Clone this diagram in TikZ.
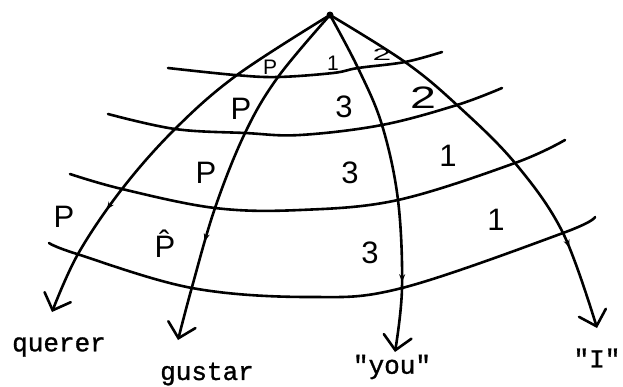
\documentclass[tikz,border=0pt]{standalone}
\usepackage{fontspec}
\setmainfont{Liberation Sans}
\newfontfamily\monofont{Liberation Mono}[Ligatures=TeXOff, FakeBold=1.2]
\usetikzlibrary{arrows.meta,decorations.markings}
\begin{document}
\begin{tikzpicture}[x=1pt,y=-1pt,
  ray/.style={line width=2.6pt, line cap=round, -{Straight Barb[length=14pt,width=28pt,line cap=round]}},
  band/.style={line width=2.6pt, line cap=round},
  cell/.style={font=\fontsize{31}{31}\selectfont, inner sep=0pt},
  smallcell/.style={font=\fontsize{21}{21}\selectfont, inner sep=0pt},
  word/.style={font=\monofont\fontsize{26}{26}\selectfont, inner sep=0pt},
  midmark/.style={postaction={decorate, decoration={markings, mark=at position #1 with {\arrow{Stealth[length=8pt,width=6pt]}}}}}
]
\useasboundingbox (0,0) rectangle (623,386);
\coordinate (apex) at (330,15);
\coordinate (qtip) at (52,312);
\coordinate (gtip) at (178,340);
\coordinate (ytip) at (395,352);
\coordinate (itip) at (597,328);
\fill (apex) circle (3.5pt);
% rays
\draw[ray, midmark=0.72] plot[smooth, tension=0.6] coordinates {(apex) (237,75) (175,129) (122,189) (78,254) (qtip)};
\draw[ray, midmark=0.72] plot[smooth, tension=0.6] coordinates {(apex) (278,77) (245,133) (215,208) (192,287) (gtip)};
\draw[ray, midmark=0.8] plot[smooth, tension=0.6] coordinates {(apex) (358,68) (382,125) (398,200) (402,288) (ytip)};
\draw[ray, midmark=0.8] plot[smooth, tension=0.6] coordinates {(apex) (405,62) (457,105) (515,163) (563,233) (itip)};
% bands
\draw[band] plot[smooth, tension=0.6] coordinates {(168,68) (235,75) (278,77) (333,73) (358,68) (405,62) (442,52)};
\draw[band] plot[smooth, tension=0.6] coordinates {(108,114) (175,129) (245,133) (300,135) (382,125) (457,105) (502,88)};
\draw[band] plot[smooth, tension=0.6] coordinates {(70,174) (122,189) (215,208) (300,210) (398,200) (515,163) (565,140)};
\draw[band] plot[smooth, tension=0.6] coordinates {(49,243) (77,254) (192,288) (310,297) (402,288) (563,233) (595,217)};
% cell labels
\node[smallcell] (a1) at (270,67) {P};
\node[smallcell] (b1) at (333,63) {1};
\node[smallcell, xscale=1.6, yscale=0.8] (c1) at (382,55) {2};
\node[cell] (a2) at (241,109) {P};
\node[cell] (b2) at (344,107) {3};
\node[cell, xscale=1.5] (c2) at (423,98) {2};
\node[cell] (a3) at (206,173) {P};
\node[cell] (b3) at (350,173) {3};
\node[cell] (c3) at (448,156) {1};
\node[cell] (a4) at (165,244) {\^P};
\node[cell] (b4) at (370,253) {3};
\node[cell] (c4) at (496,220) {1};
\node[cell] (a0) at (64,217) {P};
% words
\node[word] (querer) at (59,347) {querer};
\node[word] (gustar) at (207,374) {gustar};
\node[word] (you) at (392,367) {"you"};
\node[word] (iword) at (597,358) {"I"};
\end{tikzpicture}
\end{document}
